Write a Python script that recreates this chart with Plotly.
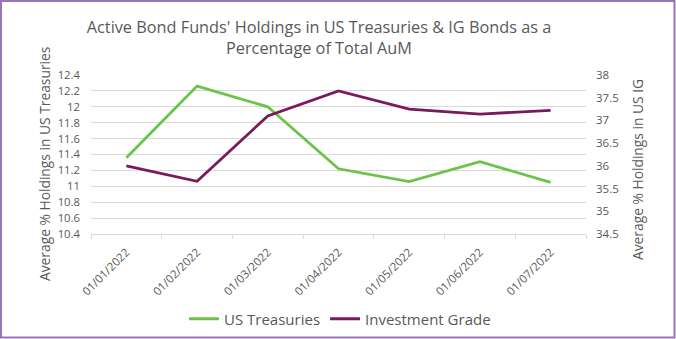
import plotly.graph_objects as go

dates = ["01/01/2022", "01/02/2022", "01/03/2022", "01/04/2022", "01/05/2022", "01/06/2022", "01/07/2022"]
us_treasuries = [11.36, 12.26, 12.00, 11.22, 11.06, 11.31, 11.05]
investment_grade = [36.00, 35.66, 37.10, 37.65, 37.25, 37.14, 37.22]
left_ticks = [10.4, 10.6, 10.8, 11.0, 11.2, 11.4, 11.6, 11.8, 12.0, 12.2, 12.4]
left_labels = ["10.4", "10.6", "10.8", "11", "11.2", "11.4", "11.6", "11.8", "12", "12.2", "12.4"]
right_ticks = [34.5, 35.0, 35.5, 36.0, 36.5, 37.0, 37.5, 38.0]
right_labels = ["34.5", "35", "35.5", "36", "36.5", "37", "37.5", "38"]

GREEN = "#6cc34a"
PURPLE = "#7a1a5c"
GREY = "#595959"
FONT = "Open Sans"

fig = go.Figure()
fig.add_trace(go.Scatter(x=dates, y=us_treasuries, mode="lines", name="US Treasuries",
                         line=dict(color=GREEN, width=2.8), yaxis="y"))
fig.add_trace(go.Scatter(x=dates, y=investment_grade, mode="lines", name="Investment Grade",
                         line=dict(color=PURPLE, width=2.8), yaxis="y2"))

W, H = 676, 339
ml, mr, mt, mb = 91, 90, 75, 105
pw = W - ml - mr
ph = H - mt - mb


def px_to_paper_x(px):
    return (px - ml) / pw


def px_to_paper_y(py):
    return (H - mb - py) / ph


fig.update_layout(
    width=W, height=H,
    margin=dict(l=ml, r=mr, t=mt, b=mb, autoexpand=False),
    paper_bgcolor="white", plot_bgcolor="white",
    font=dict(family=FONT, color=GREY, size=12),
    title=dict(text="Active Bond Funds' Holdings in US Treasuries & IG Bonds as a<br>Percentage of Total AuM",
               x=319 / W, xanchor="center", y=1 - 33 / H, yanchor="middle",
               font=dict(family=FONT, size=16.3, color=GREY)),
    xaxis=dict(type="category", range=[-0.5, 6.5], tickangle=-45, tickson="boundaries",
               ticks="outside", ticklen=4, tickcolor="#d9d9d9", showline=True,
               linecolor="#d9d9d9", linewidth=1, showgrid=False, ticklabelstandoff=6,
               automargin=False, tickfont=dict(size=11.5, color=GREY)),
    yaxis=dict(range=[10.4, 12.4], tickvals=left_ticks, ticktext=left_labels,
               showgrid=True, gridcolor="#d9d9d9", gridwidth=1, zeroline=False,
               automargin=False, ticklabelstandoff=10, tickfont=dict(size=11.3, color=GREY)),
    yaxis2=dict(range=[34.5, 38], tickvals=right_ticks, ticktext=right_labels,
                overlaying="y", side="right", showgrid=False, zeroline=False,
                automargin=False, ticklabelstandoff=9, tickfont=dict(size=11.5, color=GREY)),
    legend=dict(orientation="h", x=340 / W, xanchor="center", y=1 - 319 / H,
                yanchor="middle", yref="container", xref="container",
                font=dict(size=15, color=GREY), itemwidth=30, tracegroupgap=0),
    showlegend=True,
)

fig.add_annotation(text="Average % Holdings in US Treasuries", textangle=-90,
                   xref="paper", yref="paper", x=px_to_paper_x(44), y=px_to_paper_y(164),
                   xanchor="center", yanchor="middle", showarrow=False,
                   font=dict(family=FONT, size=13.8, color=GREY))
fig.add_annotation(text="Average % Holdings in US IG", textangle=-90,
                   xref="paper", yref="paper", x=px_to_paper_x(637), y=px_to_paper_y(170),
                   xanchor="center", yanchor="middle", showarrow=False,
                   font=dict(family=FONT, size=13.8, color=GREY))

# outer frame
fig.add_shape(type="rect", xref="paper", yref="paper",
              x0=px_to_paper_x(1), x1=px_to_paper_x(674.5),
              y0=px_to_paper_y(337.5), y1=px_to_paper_y(1),
              line=dict(color="#9b72b8", width=2), fillcolor="rgba(0,0,0,0)", layer="above")

fig.write_html("out.html")
